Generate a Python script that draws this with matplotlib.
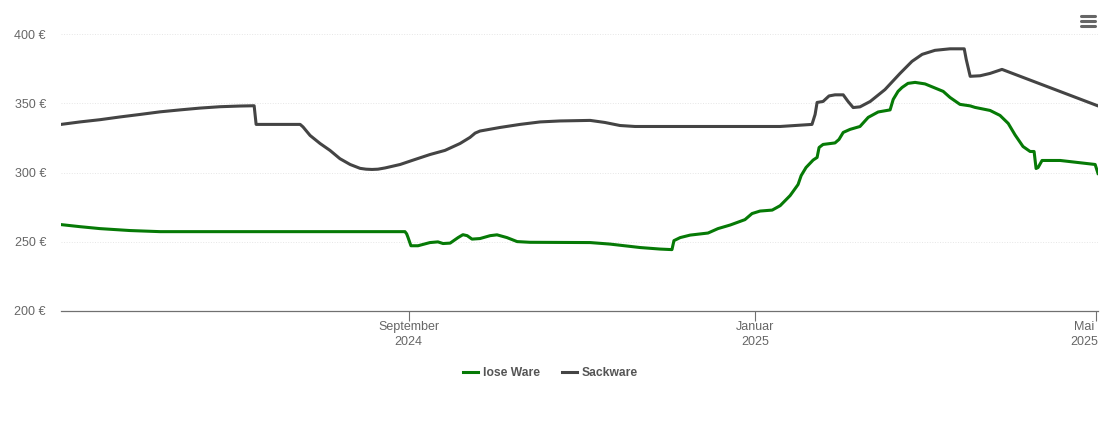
import pandas as pd
import matplotlib
matplotlib.use('Agg')
import matplotlib.pyplot as plt
from matplotlib.lines import Line2D
from matplotlib.transforms import ScaledTranslation

plt.rcParams['font.family'] = ['Liberation Sans', 'DejaVu Sans']

# days counted from the first date on the axis
start = pd.Timestamp('2024-05-01 15:00')

lose_days = [0, 6.7, 13.7, 24.3, 34.9, 66.5, 121.1, 121.7, 122.2, 123.2, 125.7, 129.9, 132.7, 134.5, 137, 139.8, 141.5,
             143, 144.7, 147.5, 151.1, 153.5, 157, 160.6, 165.1, 186.3, 193.3, 203.9, 210.9, 215.1, 215.8,
             218, 221.5, 227.8, 231.3, 235.6, 240.8, 243.3, 246.1, 250.4, 253.2, 256.7, 259.5, 260.6, 262.3,
             264.8, 266.2, 266.9, 268.3, 272.5, 273.9, 275.4, 277.8, 281.3, 284.2, 287.7, 291.9, 293, 294.7,
             296.1, 298.2, 300.7, 304.2, 310.6, 313, 316.5, 320.1, 321.8, 327.1, 330.6, 333.5, 335.9, 338.7, 341.2,
             342.6, 343.3, 344, 345.4, 351.8, 364.1, 365.1]
lose_preis = [262.3, 260.8, 259.4, 258, 257.2, 257.2, 257.2, 255.6, 252.9, 247, 247, 249.3, 249.8, 248.6, 248.9, 252.9, 255,
              254.3, 251.8, 252.2, 254.3, 254.9, 252.9, 250, 249.5, 249.3, 248.2, 245.7, 244.6, 244.2, 250.7,
              252.9, 254.7, 256.2, 259.4, 262, 265.9, 270.3, 272.1, 272.8, 276, 283.3, 291.3, 297.8, 303.6,
              309, 310.9, 318.1, 320.3, 321.4, 323.9, 329, 331.2, 333.3, 339.9, 343.8, 345.3, 352.9, 358.7,
              361.5, 364.5, 365.2, 364.1, 358.7, 354.3, 349.3, 348.2, 347.1, 344.9, 341.3, 335.5, 327.2, 318.8, 315.2,
              315.2, 302.9, 303.6, 308.7, 308.7, 305.8, 299.3]

sack_days = [0, 6.7, 13.7, 20.8, 27.8, 34.9, 41.9, 48.9, 56, 63, 68, 68.7, 84.2, 85.2, 87.7, 91.2, 94.7, 98.2, 101.8,
             105.3, 107.4, 109.5, 111.6, 114.1, 119.4, 124.6, 129.9, 135.2, 140.5, 144, 145.8, 147.5, 154.6, 161.6,
             168.7, 175.7, 186.3, 191.5, 196.8, 202.1, 225, 253.2, 264.4, 265.5, 266.2, 268.3, 270.4, 272.5, 275.4,
             277.1, 278.9, 281.3, 284.9, 290.1, 295.4, 299.6, 303.2, 307.7, 313, 318, 318.7, 320.1, 323.6, 327.1,
             331.3, 365.1]
sack_preis = [334.8, 336.6, 338.2, 340.2, 342, 343.9, 345.3, 346.6, 347.6, 348.1, 348.3, 334.8, 334.8, 333, 326.8, 321,
              316, 310, 305.8, 303, 302.4, 302.2, 302.4, 303.3, 305.8, 309.4, 313, 316, 321, 325.4, 328.5, 330, 332.6,
              334.8, 336.6, 337.3, 337.7, 336.2, 334, 333.3, 333.3, 333.3, 334.8, 342, 350.7, 351.4, 355.4, 356.2,
              356.2, 351.4, 347, 347.5, 351.4, 360, 371.7, 380.4, 385.5, 388.4, 389.5, 389.5, 381.9, 369.6, 370, 371.7,
              374.6, 348.2]

y_ticks = [200, 250, 300, 350, 400]
x_ticks = ['2024-09-01', '2025-01-01', '2025-05-01']
x_labels = ['September\n2024', 'Januar\n2025', 'Mai\n2025']

W, H = 1110, 422
fig = plt.figure(figsize=(W / 100, H / 100), dpi=100)
ax = fig.add_axes([61 / W, 1 - 310.7 / H, (1098 - 61) / W, (310.7 - 34.3) / H])

lose_x = start + pd.to_timedelta(lose_days, unit='D')
sack_x = start + pd.to_timedelta(sack_days, unit='D')
ax.plot(lose_x, lose_preis, color='#067a06', lw=2.2, label='lose Ware', solid_joinstyle='round', zorder=3)
ax.plot(sack_x, sack_preis, color='#444444', lw=2.2, label='Sackware', solid_joinstyle='round', zorder=3)

ax.set_xlim(start, start + pd.Timedelta(days=365.1))
ax.set_ylim(200, 400)

for s in ['top', 'left', 'right']:
    ax.spines[s].set_visible(False)
ax.spines['bottom'].set_color('#707070')
ax.spines['bottom'].set_linewidth(0.9)

ax.set_yticks(y_ticks)
ax.set_yticklabels([f'{v} €' for v in y_ticks])
ax.tick_params(axis='y', length=0, pad=10.8, labelsize=9, labelcolor='#666666')
ax.grid(axis='y', color='#e6e6e6', lw=0.7, ls=':')
ax.set_axisbelow(True)

ax.set_xticks(pd.to_datetime(x_ticks))
ax.set_xticklabels(x_labels, linespacing=1.3)
ax.tick_params(axis='x', length=7.2, width=0.8, color='#707070', pad=0.5, labelsize=9, labelcolor='#666666')
last = ax.get_xticklabels()[-1]
last.set_ha('right')
last.set_multialignment('center')
last.set_transform(last.get_transform() + ScaledTranslation(1.5 / 72, 0, fig.dpi_scale_trans))

leg = ax.legend(loc='center', bbox_to_anchor=(550.5 / W, 1 - 373 / H), bbox_transform=fig.transFigure, ncol=2,
                frameon=False, handlelength=1.25, handletextpad=0.42, columnspacing=1.75,
                prop={'weight': 'bold', 'size': 8.7})
for t in leg.get_texts():
    t.set_color('#555555')

# menu icon top right
for py in [16, 21, 26]:
    fig.add_artist(Line2D([1081 / W, 1095 / W], [1 - py / H, 1 - py / H], color='#666666', lw=2.2,
                          solid_capstyle='round'))

fig.savefig('out.png', dpi=100)
